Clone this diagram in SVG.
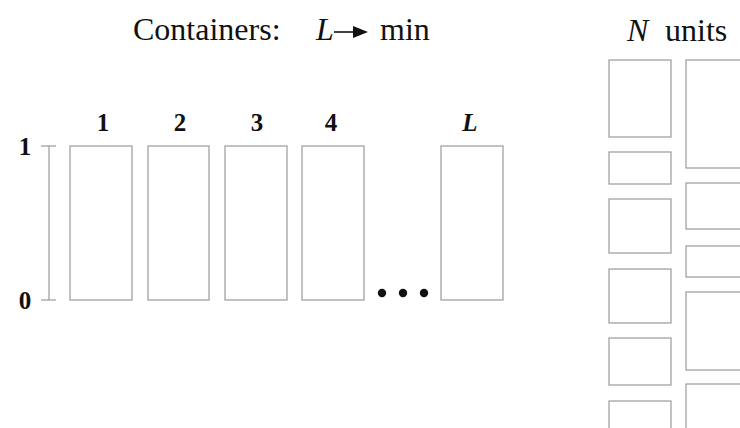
<svg xmlns="http://www.w3.org/2000/svg" width="740" height="428" viewBox="0 0 740 428">
  <style>
    .box { fill: #ffffff; stroke: #9a9a9a; stroke-width: 1.2; }
    .axis { fill: none; stroke: #9a9a9a; stroke-width: 1.2; }
    .title { font-family: "Liberation Serif", "Times New Roman", serif; font-size: 32px; fill: #111; }
    .it { font-style: italic; }
    .num { font-family: "Liberation Serif", "Times New Roman", serif; font-size: 25px; font-weight: bold; fill: #111; text-anchor: middle; }
  </style>
  <rect width="740" height="428" fill="#ffffff"/>

  <!-- heading -->
  <g id="heading">
    <text class="title" x="133" y="40">Containers:</text>
    <text class="title it" x="316" y="40">L</text>
    <line x1="334" y1="32" x2="355" y2="32" stroke="#111" stroke-width="1.6"/>
    <polygon points="353,26 368,32 353,38" fill="#111"/>
    <text class="title" x="380" y="40">min</text>
  </g>
  <g id="units-heading">
    <text class="title it" x="627" y="41">N</text>
    <text class="title" x="665" y="41">units</text>
  </g>

  <!-- height scale 0..1 -->
  <g id="scale">
    <line class="axis" x1="49" y1="146" x2="49" y2="300"/>
    <line class="axis" x1="41" y1="146" x2="56" y2="146"/>
    <line class="axis" x1="41" y1="300" x2="56" y2="300"/>
    <text class="num" x="25" y="155">1</text>
    <text class="num" x="25" y="309">0</text>
  </g>

  <!-- containers -->
  <g id="container-1">
    <rect class="box" x="70" y="146" width="62" height="154"/>
    <text class="num" x="103" y="131">1</text>
  </g>
  <g id="container-2">
    <rect class="box" x="148" y="146" width="61" height="154"/>
    <text class="num" x="180" y="131">2</text>
  </g>
  <g id="container-3">
    <rect class="box" x="225" y="146" width="62" height="154"/>
    <text class="num" x="257" y="131">3</text>
  </g>
  <g id="container-4">
    <rect class="box" x="302" y="146" width="62" height="154"/>
    <text class="num" x="331" y="131">4</text>
  </g>
  <g id="ellipsis">
    <circle cx="382" cy="293" r="4.2" fill="#111"/>
    <circle cx="403" cy="293" r="4.2" fill="#111"/>
    <circle cx="424" cy="293" r="4.2" fill="#111"/>
  </g>
  <g id="container-L">
    <rect class="box" x="441" y="146" width="62" height="154"/>
    <text class="num it" x="470" y="131">L</text>
  </g>

  <!-- units, left column -->
  <g id="unit-a1"><rect class="box" x="609" y="60" width="62" height="77"/></g>
  <g id="unit-a2"><rect class="box" x="609" y="152" width="62" height="32"/></g>
  <g id="unit-a3"><rect class="box" x="609" y="199" width="62" height="54"/></g>
  <g id="unit-a4"><rect class="box" x="609" y="269" width="62" height="54"/></g>
  <g id="unit-a5"><rect class="box" x="609" y="338" width="62" height="47"/></g>
  <g id="unit-a6"><rect class="box" x="609" y="401" width="62" height="60"/></g>

  <!-- units, right column -->
  <g id="unit-b1"><rect class="box" x="686" y="60" width="80" height="108"/></g>
  <g id="unit-b2"><rect class="box" x="686" y="183" width="80" height="46"/></g>
  <g id="unit-b3"><rect class="box" x="686" y="246" width="80" height="31"/></g>
  <g id="unit-b4"><rect class="box" x="686" y="292" width="80" height="78"/></g>
  <g id="unit-b5"><rect class="box" x="686" y="384" width="80" height="80"/></g>
</svg>
